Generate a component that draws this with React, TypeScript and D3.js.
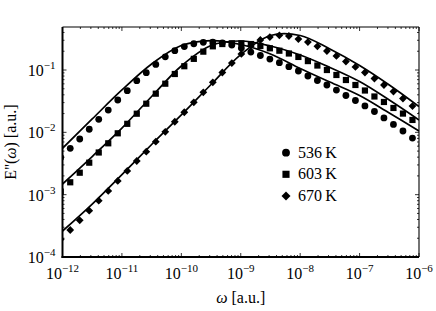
import React from 'react';
import * as d3 from 'd3';

// measured frequencies (log10 of omega), shared by the three temperatures
const logOmega = [
  -12.03, -11.87, -11.71, -11.55, -11.39, -11.23, -11.07, -10.91, -10.75, -10.59,
  -10.43, -10.27, -10.11, -9.95, -9.79, -9.63, -9.47, -9.31, -9.15, -8.99,
  -8.83, -8.67, -8.51, -8.35, -8.19, -8.03, -7.87, -7.71, -7.55, -7.39,
  -7.23, -7.07, -6.91, -6.75, -6.59, -6.43, -6.27, -6.11, -5.95,
];

// E'' data points
const e536 = [
  0.00394, 0.00555, 0.00782, 0.0112, 0.0162, 0.0228, 0.033, 0.0466, 0.0674, 0.0905,
  0.123, 0.163, 0.204, 0.238, 0.264, 0.278, 0.281, 0.273, 0.252, 0.225,
  0.194, 0.171, 0.15, 0.131, 0.113, 0.0964, 0.0801, 0.0679, 0.0575, 0.0477,
  0.039, 0.0324, 0.0265, 0.0216, 0.017, 0.0134, 0.0105, 0.0081, 0.00627,
];
const e603 = [
  0.00112, 0.00158, 0.00225, 0.00326, 0.00475, 0.00667, 0.00965, 0.0137, 0.0199, 0.0288,
  0.0417, 0.0603, 0.0863, 0.115, 0.151, 0.197, 0.24, 0.261, 0.268, 0.268,
  0.261, 0.243, 0.223, 0.204, 0.184, 0.162, 0.139, 0.118, 0.1, 0.0832,
  0.0691, 0.0575, 0.0469, 0.0376, 0.0307, 0.0246, 0.02, 0.0158, 0.0122,
];
const e670 = [
  0.000192, 0.000271, 0.000388, 0.000553, 0.0008, 0.00115, 0.00166, 0.0024, 0.00347, 0.00489,
  0.00708, 0.0102, 0.0148, 0.021, 0.0303, 0.0439, 0.0635, 0.0912, 0.129, 0.181,
  0.243, 0.303, 0.338, 0.36, 0.351, 0.314, 0.281, 0.24, 0.202, 0.168,
  0.137, 0.112, 0.0912, 0.0731, 0.0575, 0.0452, 0.0349, 0.0264, 0.0204,
];

// fitted curves
const fitLogOmega = [-12, -11.5, -11, -10.5, -10, -9.5, -9, -8.5, -8, -7.5, -7, -6.5, -6];
const fit536 = [0.00554, 0.0164, 0.0478, 0.125, 0.247, 0.297, 0.257, 0.181, 0.106, 0.0642, 0.039, 0.0204, 0.0105];
const fit603 = [0.00148, 0.00409, 0.0117, 0.0376, 0.116, 0.247, 0.292, 0.243, 0.174, 0.11, 0.0653, 0.033, 0.0158];
const fit670 = [0.000261, 0.000708, 0.0021, 0.00638, 0.019, 0.0585, 0.177, 0.358, 0.358, 0.217, 0.118, 0.0574, 0.0259];

const xTickExps = [-12, -11, -10, -9, -8, -7, -6];
const yTickExps = [-4, -3, -2, -1];
const legendLabels = ['536\u2009K', '603\u2009K', '670\u2009K'];

const W = 436;
const H = 311;
const margin = { left: 62.5, right: 17, top: 27, bottom: 54 };
const font = '"Liberation Serif", "DejaVu Serif", serif';

const Marker = ({ kind, x, y, s = 1 }) => {
  if (kind === 0) return <circle cx={x} cy={y} r={3.4 * s} fill="#000" />;
  if (kind === 1) {
    const h = 3.1 * s;
    return <rect x={x - h} y={y - h} width={2 * h} height={2 * h} fill="#000" />;
  }
  const d = 3.9 * s;
  return <path d={`M${x},${y - d}L${x + d},${y}L${x},${y + d}L${x - d},${y}Z`} fill="#000" />;
};

const App = () => {
  const x = d3.scaleLog().domain([1e-12, 1e-6]).range([margin.left, W - margin.right]);
  const y = d3.scaleLog().domain([1e-4, Math.pow(10, -0.31)]).range([H - margin.bottom, margin.top]);
  const [x0, x1] = x.range();
  const [y0, y1] = y.range();

  const line = d3
    .line()
    .x((d) => x(Math.pow(10, d[0])))
    .y((d) => y(d[1]))
    .curve(d3.curveCatmullRom);

  const fits = [fit536, fit603, fit670].map((vals) => vals.map((v, i) => [fitLogOmega[i], v]));
  const series = [e536, e603, e670];

  // minor ticks for both log axes
  const xMinor = [];
  for (let e = -12; e < -6; e++) for (let m = 2; m <= 9; m++) xMinor.push(m * Math.pow(10, e));
  const yMinor = [];
  for (let e = -4; e < 0; e++)
    for (let m = 2; m <= 9; m++) {
      const v = m * Math.pow(10, e);
      if (v <= y.domain()[1]) yMinor.push(v);
    }

  return (
    <svg width={W} height={H} style={{ display: 'block', position: 'absolute', left: 0, top: 0 }}>
      <defs>
        <clipPath id="plot">
          <rect x={x0} y={y1} width={x1 - x0} height={y0 - y1} />
        </clipPath>
      </defs>
      <rect width={W} height={H} fill="#fff" />

      <g clipPath="url(#plot)">
        {fits.map((f, i) => (
          <path key={i} d={line(f)} fill="none" stroke="#000" strokeWidth={1.7} />
        ))}
        {series.map((vals, k) =>
          vals.map((v, i) => <Marker key={`${k}-${i}`} kind={k} x={x(Math.pow(10, logOmega[i]))} y={y(v)} />)
        )}
      </g>

      {/* ticks, all inward */}
      <g stroke="#000" strokeWidth={0.8}>
        {xTickExps.map((e) => {
          const px = x(Math.pow(10, e));
          return (
            <g key={e}>
              <line x1={px} x2={px} y1={y0} y2={y0 - 4} />
              <line x1={px} x2={px} y1={y1} y2={y1 + 4} />
            </g>
          );
        })}
        {xMinor.map((v, i) => (
          <g key={i}>
            <line x1={x(v)} x2={x(v)} y1={y0} y2={y0 - 2} />
            <line x1={x(v)} x2={x(v)} y1={y1} y2={y1 + 2} />
          </g>
        ))}
        {yTickExps.map((e) => {
          const py = y(Math.pow(10, e));
          return (
            <g key={e}>
              <line x1={x0} x2={x0 + 4} y1={py} y2={py} />
              <line x1={x1} x2={x1 - 4} y1={py} y2={py} />
            </g>
          );
        })}
        {yMinor.map((v, i) => (
          <g key={i}>
            <line x1={x0} x2={x0 + 2} y1={y(v)} y2={y(v)} />
            <line x1={x1} x2={x1 - 2} y1={y(v)} y2={y(v)} />
          </g>
        ))}
      </g>

      {/* frame: left and bottom heavier */}
      <line x1={x0} x2={x1} y1={y1} y2={y1} stroke="#000" strokeWidth={1.1} />
      <line x1={x1} x2={x1} y1={y0} y2={y1} stroke="#000" strokeWidth={1.1} />
      <line x1={x0} x2={x0} y1={y0 + 1} y2={y1} stroke="#000" strokeWidth={2} />
      <line x1={x0 - 1} x2={x1} y1={y0} y2={y0} stroke="#000" strokeWidth={2} />

      <g fontFamily={font} fill="#000">
        {xTickExps.map((e) => (
          <text key={e} x={x(Math.pow(10, e))} y={y0 + 22} textAnchor="middle" fontSize={16}>
            10<tspan fontSize={11} dy={-7}>{`\u2212${-e}`}</tspan>
          </text>
        ))}
        {yTickExps.map((e) => (
          <text key={e} x={x0 - 7} y={y(Math.pow(10, e)) + 6} textAnchor="end" fontSize={16}>
            10<tspan fontSize={11} dy={-7}>{`\u2212${-e}`}</tspan>
          </text>
        ))}

        <text x={(x0 + x1) / 2} y={H - 8} textAnchor="middle" fontSize={16}>
          <tspan fontStyle="italic">ω</tspan> [a.u.]
        </text>
        <text transform={`translate(16,${(y0 + y1) / 2}) rotate(-90)`} textAnchor="middle" fontSize={16}>
          E''(<tspan fontStyle="italic">ω</tspan>) [a.u.]
        </text>

        {legendLabels.map((lab, i) => (
          <g key={lab}>
            <Marker kind={i} x={286} y={152.7 + i * 21.6} s={1.15} />
            <text x={298} y={152.7 + i * 21.6 + 5} fontSize={16}>
              {lab}
            </text>
          </g>
        ))}
      </g>
    </svg>
  );
};

export default App;
